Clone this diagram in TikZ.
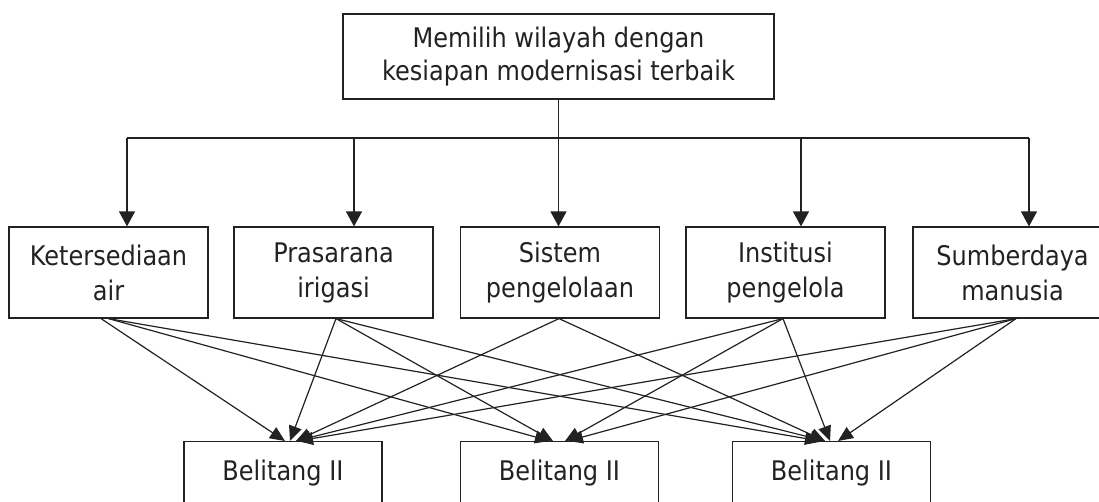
\documentclass[tikz,border=0pt]{standalone}
\usepackage{fontspec}
\setmainfont[FakeStretch=0.89]{DejaVu Sans}
\usetikzlibrary{arrows.meta,calc}
\definecolor{ink}{HTML}{222222}
\begin{document}
\begin{tikzpicture}[x=1pt,y=-1pt,
  box/.style={draw=ink,line width=1.2pt,rectangle,align=center,text=ink,
    font=\fontsize{27}{35}\selectfont,inner sep=0pt},
  mid/.style={box,minimum width=199pt,minimum height=91pt},
  low/.style={box,minimum width=198pt,text height=39pt,text depth=50pt,anchor=north},
  conn/.style={draw=ink,line width=1.2pt},
  arr/.style={conn,-{Triangle[length=15pt,width=16pt]}},
  sarr/.style={conn,-{Triangle[length=15pt,width=13pt]}}]
\useasboundingbox (0,0) rectangle (1099,501);
\clip (0,0) rectangle (1099,501);
\node[box,minimum width=431pt,minimum height=85pt,font=\fontsize{27}{33}\selectfont] (top) at (558.5,56.5)
  {Memilih wilayah dengan\\kesiapan modernisasi terbaik};
\node[mid] (m1) at (108.5,272.5) {Ketersediaan\\air};
\node[mid] (m2) at (333.5,272.5) {Prasarana\\irigasi};
\node[mid] (m3) at (560,272.5) {Sistem\\pengelolaan};
\node[mid] (m4) at (785.5,272.5) {Institusi\\pengelola};
\node[mid] (m5) at (1012.5,272.5) {Sumberdaya\\manusia};
\node[low] (b1) at (283,441) {Belitang II};
\node[low] (b2) at (559.5,441) {Belitang II};
\node[low] (b3) at (831.5,441) {Belitang II};
% bus
\coordinate (j) at (558.5,138);
\coordinate (c1) at (127,138);
\coordinate (c2) at (354,138);
\coordinate (c3) at (558.5,138);
\coordinate (c4) at (801,138);
\coordinate (c5) at (1029,138);
\draw[conn] (top.south) -- (j);
\draw[conn] (c1) -- (c5);
\draw[arr] (c1) -- (m1.north -| c1);
\draw[arr] (c2) -- (m2.north -| c2);
\draw[arr] (c3) -- (m3.north -| c3);
\draw[arr] (c4) -- (m4.north -| c4);
\draw[arr] (c5) -- (m5.north -| c5);
% fan
\draw[sarr] ([xshift=-7.5pt]m1.south) -- ([xshift=2pt]b1.north);
\draw[sarr] (m1.south) -- ([xshift=-9.5pt]b2.north);
\draw[sarr] (m1.south) -- ([xshift=-11.5pt]b3.north);
\draw[sarr] ([xshift=2.5pt]m2.south) -- ([xshift=7pt]b1.north);
\draw[sarr] ([xshift=2.5pt]m2.south) -- ([xshift=-6.5pt]b2.north);
\draw[sarr] ([xshift=2.5pt]m2.south) -- ([xshift=-6.5pt]b3.north);
\draw[sarr] ([xshift=-1pt]m3.south) -- ([xshift=13pt]b1.north);
\draw[sarr] ([xshift=-1pt]m3.south) -- ([xshift=-6.5pt]b3.north);
\draw[sarr] ([xshift=-2.5pt]m4.south) -- ([xshift=13pt]b1.north);
\draw[sarr] ([xshift=-2.5pt]m4.south) -- ([xshift=5.5pt]b2.north);
\draw[sarr] ([xshift=-2.5pt]m4.south) -- ([xshift=-1.5pt]b3.north);
\draw[sarr] ([xshift=3.5pt]m5.south) -- ([xshift=15pt]b1.north);
\draw[sarr] ([xshift=3.5pt]m5.south) -- ([xshift=8.5pt]b2.north);
\draw[sarr] ([xshift=3.5pt]m5.south) -- ([xshift=6.5pt]b3.north);
\end{tikzpicture}
\end{document}
